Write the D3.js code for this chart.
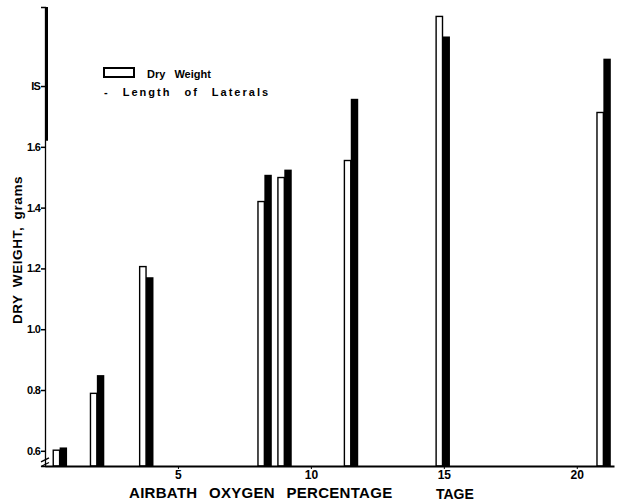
<!DOCTYPE html>
<html>
<head>
<meta charset="utf-8">
<script src="https://cdn.jsdelivr.net/npm/d3@7"></script>
<style>
  body { margin: 0; background: #fff; }
  text { font-family: "Liberation Sans", Arial, sans-serif; }
</style>
</head>
<body>
<svg id="chart"></svg>
<script>
// oxygen percentage of each bar pair
let oxygen = [0.55, 1.95, 3.8, 8.25, 9.0, 11.5, 14.95, 21.0];
// dry weight (open bars), grams
let dryWeight = [0.602, 0.789, 1.206, 1.42, 1.499, 1.555, 2.029, 1.713];
// length of laterals (solid bars), on the same scale
let lateralLength = [0.611, 0.849, 1.171, 1.508, 1.525, 1.758, 1.963, 1.89];
let yTicks = [0.6, 0.8, 1.0, 1.2, 1.4, 1.6, 1.8];
let yTickLabels = ["0.6", "0.8", "1.0", "1.2", "1.4", "1.6", "IS"];
let xTicks = [5, 10, 15, 20];
let xTickLabels = ["5", "10", "15", "20"];

let W = 618, H = 502;
let svg = d3.select("#chart").attr("width", W).attr("height", H);

let x = d3.scaleLinear().domain([0, 21.4]).range([45, 614]);
let y = d3.scaleLinear().domain([0.55, 2.06]).range([466, 7]);

// bars: open = dry weight, solid = lateral length
let wOpen = 0.24, wSolid = 0.28;
svg.selectAll(".dry").data(oxygen).enter().append("rect")
    .attr("class", "dry")
    .attr("x", d => x(d - wOpen))
    .attr("width", x(wOpen) - x(0))
    .attr("y", (d, i) => y(dryWeight[i]))
    .attr("height", (d, i) => y(0.55) - y(dryWeight[i]))
    .attr("fill", "#fff")
    .attr("stroke", "#000")
    .attr("stroke-width", 1.4);

svg.selectAll(".lat").data(oxygen).enter().append("rect")
    .attr("class", "lat")
    .attr("x", d => x(d))
    .attr("width", x(wSolid) - x(0))
    .attr("y", (d, i) => y(lateralLength[i]))
    .attr("height", (d, i) => y(0.55) - y(lateralLength[i]))
    .attr("fill", "#000");

// y axis
let yAxis = svg.append("g")
    .attr("transform", "translate(" + x(0) + ",0)")
    .call(d3.axisLeft(y).tickValues(yTicks)
        .tickFormat((d, i) => yTickLabels[i]).tickSize(4).tickPadding(1));
yAxis.select(".domain").attr("stroke-width", 1.3);
yAxis.selectAll(".tick line").attr("stroke-width", 1.5);
yAxis.selectAll("text").style("font-size", "11px").style("font-weight", "bold")
    .attr("letter-spacing", "-0.8px");

// thick upper stretch of the axis as printed
svg.append("line")
    .attr("x1", x(0) + 1.5).attr("x2", x(0) + 1.5)
    .attr("y1", y(2.06)).attr("y2", y(1.62))
    .attr("stroke", "#000").attr("stroke-width", 3);

// axis break mark
[0.57, 0.555].forEach(v => {
    svg.append("path")
        .attr("d", "M" + (x(0) - 4) + "," + (y(v) + 2) + " l8,-4")
        .attr("stroke", "#000").attr("stroke-width", 1.3);
});

// x axis
let xAxis = svg.append("g")
    .attr("transform", "translate(0," + y(0.55) + ")")
    .call(d3.axisBottom(x).tickValues(xTicks)
        .tickFormat((d, i) => xTickLabels[i]).tickSize(3).tickPadding(1).tickSizeOuter(0));
xAxis.select(".domain").attr("stroke-width", 2);
xAxis.selectAll("text").style("font-size", "12px").style("font-weight", "bold");

// axis titles
svg.append("text")
    .attr("transform", "translate(22,250) rotate(-90)")
    .attr("text-anchor", "middle")
    .style("font-size", "13.5px")
    .style("font-weight", "bold")
    .attr("letter-spacing", "0.6px")
    .attr("word-spacing", "3px")
    .text("DRY WEIGHT, grams");

svg.append("text")
    .attr("x", 129).attr("y", 498)
    .style("font-size", "15px")
    .style("font-weight", "bold")
    .attr("letter-spacing", "0.3px")
    .attr("word-spacing", "7px")
    .text("AIRBATH OXYGEN PERCENTAGE");

svg.append("text")
    .attr("x", 436).attr("y", 499)
    .style("font-size", "14px")
    .style("font-weight", "bold")
    .text("TAGE");

// legend
svg.append("rect")
    .attr("x", 104).attr("y", 68).attr("width", 30).attr("height", 9)
    .attr("fill", "#fff").attr("stroke", "#000").attr("stroke-width", 2);
svg.append("text")
    .attr("x", 147).attr("y", 78)
    .style("font-size", "11px").style("font-weight", "bold")
    .attr("word-spacing", "6px")
    .text("Dry Weight");
svg.append("text")
    .attr("x", 104).attr("y", 96)
    .style("font-size", "11px").style("font-weight", "bold")
    .attr("letter-spacing", "2px")
    .attr("word-spacing", "8px")
    .text("- Length of Laterals");
</script>
</body>
</html>
